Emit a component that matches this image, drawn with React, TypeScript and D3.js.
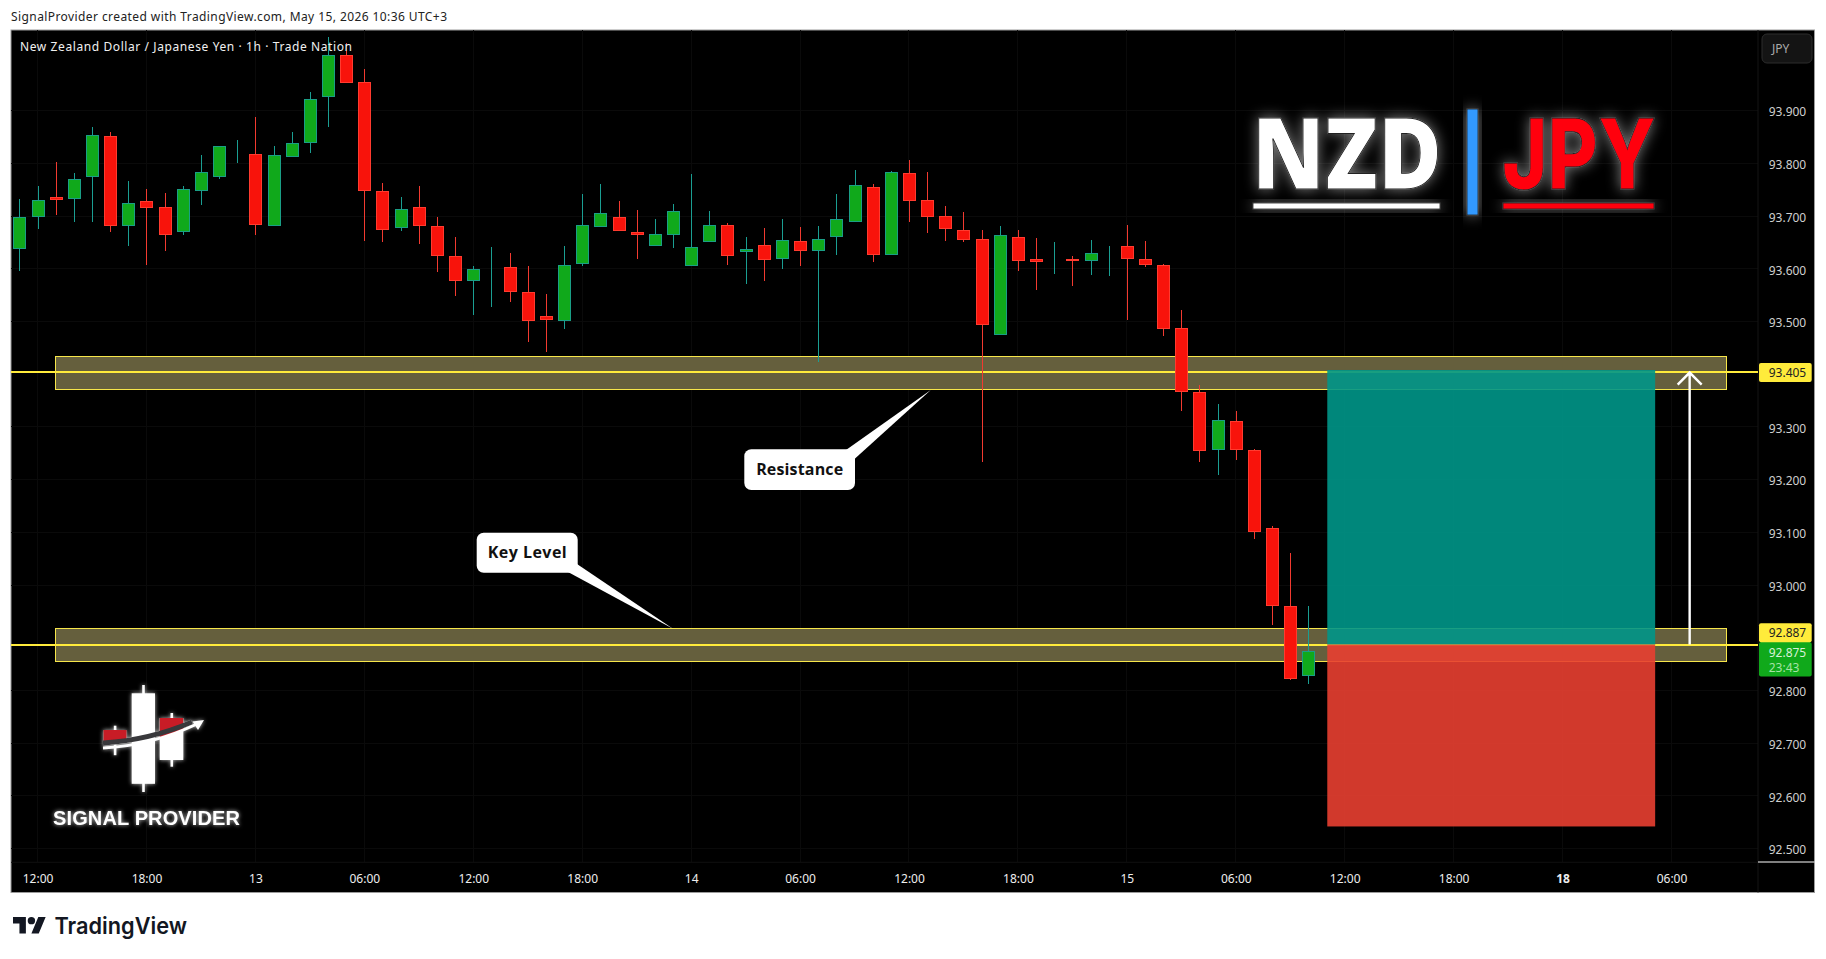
import React, { useEffect, useRef } from "react";

import * as d3 from "d3";

const WIDTH = 1826;
const HEIGHT = 959;

// NZDJPY 1h candles, May 12 11:00 to May 15 10:00
const opens = [
  93.638, 93.699, 93.736, 93.733, 93.775, 93.851, 93.682, 93.728, 93.718, 93.67, 93.748, 93.775, 93.821, 93.817, 93.682,
  93.813, 93.839, 93.925, 94.005, 93.954, 93.747, 93.678, 93.718, 93.681, 93.624, 93.577, 93.6, 93.603, 93.555, 93.51,
  93.5, 93.61, 93.68, 93.698, 93.67, 93.643, 93.665, 93.605, 93.65, 93.683, 93.631, 93.645, 93.618, 93.653, 93.633,
  93.66, 93.688, 93.755, 93.626, 93.782, 93.731, 93.7, 93.674, 93.657, 93.474, 93.66, 93.619, 93.616, 93.619, 93.614,
  93.628, 93.643, 93.619, 93.607, 93.487, 93.366, 93.257, 93.311, 93.257, 93.108, 92.96, 92.828,
];
const highs = [
  93.732, 93.757, 93.803, 93.782, 93.869, 93.86, 93.767, 93.751, 93.744, 93.757, 93.816, 93.832, 93.844, 93.888, 93.833,
  93.86, 93.935, 94.04, 94.028, 93.979, 93.763, 93.736, 93.757, 93.698, 93.66, 93.605, 93.641, 93.63, 93.605, 93.552,
  93.643, 93.742, 93.761, 93.729, 93.712, 93.695, 93.722, 93.779, 93.71, 93.686, 93.661, 93.678, 93.695, 93.68, 93.682,
  93.741, 93.788, 93.76, 93.786, 93.807, 93.784, 93.72, 93.707, 93.674, 93.682, 93.674, 93.659, 93.65, 93.625, 93.655,
  93.644, 93.684, 93.653, 93.61, 93.522, 93.38, 93.344, 93.33, 93.258, 93.112, 93.061, 92.96,
];
const lows = [
  93.596, 93.675, 93.702, 93.689, 93.689, 93.67, 93.643, 93.607, 93.634, 93.664, 93.721, 93.77, 93.801, 93.664, 93.682,
  93.813, 93.82, 93.869, 93.953, 93.653, 93.651, 93.672, 93.647, 93.594, 93.548, 93.512, 93.527, 93.537, 93.461, 93.442,
  93.486, 93.605, 93.68, 93.671, 93.619, 93.643, 93.64, 93.605, 93.65, 93.608, 93.572, 93.577, 93.6, 93.606, 93.424,
  93.627, 93.688, 93.612, 93.626, 93.688, 93.667, 93.653, 93.65, 93.234, 93.474, 93.595, 93.56, 93.591, 93.568, 93.589,
  93.587, 93.502, 93.604, 93.473, 93.33, 93.234, 93.209, 93.237, 93.088, 92.924, 92.82, 92.812,
];
const closes = [
  93.698, 93.73, 93.731, 93.77, 93.853, 93.682, 93.724, 93.716, 93.665, 93.751, 93.783, 93.832, 93.821, 93.684, 93.815,
  93.838, 93.923, 94.005, 93.953, 93.748, 93.674, 93.713, 93.682, 93.625, 93.576, 93.599, 93.601, 93.555, 93.5, 93.503,
  93.608, 93.684, 93.705, 93.671, 93.665, 93.666, 93.71, 93.641, 93.683, 93.624, 93.638, 93.616, 93.655, 93.633, 93.657,
  93.694, 93.759, 93.627, 93.784, 93.728, 93.698, 93.675, 93.654, 93.493, 93.664, 93.614, 93.612, 93.617, 93.614, 93.63,
  93.629, 93.618, 93.607, 93.485, 93.367, 93.255, 93.313, 93.257, 93.1, 92.961, 92.822, 92.874,
];

const priceTicks = [93.9, 93.8, 93.7, 93.6, 93.5, 93.3, 93.2, 93.1, 93.0, 92.8, 92.7, 92.6, 92.5];
const timeTickBars = [1, 7, 13, 19, 25, 31, 37, 43, 49, 55, 61, 67, 73, 79, 85, 91];
const timeTickLabels = ["12:00", "18:00", "13", "06:00", "12:00", "18:00", "14", "06:00", "12:00", "18:00", "15", "06:00", "12:00", "18:00", "18", "06:00"];

const upperZone = [93.434, 93.372];
const lowerZone = [92.918, 92.855];
const resistancePrice = 93.405;
const keyPrice = 92.887;
const lastPrice = 92.875;
const targetPrice = 93.408;
const stopPrice = 92.542;
const positionBars = [72.04, 90.1];
const zoneBars = [2.0, 94.05];

const App: React.FC = () => {
  const svgRef = useRef<SVGSVGElement | null>(null);

  useEffect(() => {
    if (!svgRef.current) return;
    const svg = d3.select(svgRef.current);
    svg.selectAll("*").remove();

    const frame = { left: 11, right: 1814.5, top: 30, bottom: 892.5 };
    const plotRight = 1758;
    const plotBottom = 862.3;

    const x = d3.scaleLinear().domain([0, 71]).range([19.4, 1308.4]);
    const y = d3.scaleLinear().domain([92.474, 94.053]).range([plotBottom, frame.top]);
    const labelFont = "'Noto Sans', sans-serif";

    const defs = svg.append("defs");
    const glow = (id: string, blur: number, opacity: number) => {
      const f = defs
        .append("filter")
        .attr("id", id)
        .attr("x", "-30%")
        .attr("y", "-60%")
        .attr("width", "160%")
        .attr("height", "220%");
      f.append("feGaussianBlur").attr("in", "SourceAlpha").attr("stdDeviation", blur).attr("result", "b");
      f.append("feFlood").attr("flood-color", "#fff").attr("flood-opacity", opacity).attr("result", "c");
      f.append("feComposite").attr("in", "c").attr("in2", "b").attr("operator", "in").attr("result", "g");
      const m = f.append("feMerge");
      m.append("feMergeNode").attr("in", "g");
      m.append("feMergeNode").attr("in", "SourceGraphic");
    };
    glow("bigGlow", 7, 0.48);
    glow("smallGlow", 2, 0.75);

    defs
      .append("clipPath")
      .attr("id", "plotClip")
      .append("rect")
      .attr("x", frame.left)
      .attr("y", frame.top)
      .attr("width", plotRight - frame.left)
      .attr("height", plotBottom - frame.top);

    svg.append("rect").attr("width", WIDTH).attr("height", HEIGHT).attr("fill", "#fff");

    // header
    svg
      .append("text")
      .attr("x", 11)
      .attr("y", 21)
      .attr("textLength", 436)
      .attr("font-family", labelFont)
      .attr("font-size", 12)
      .attr("fill", "#222")
      .text("SignalProvider created with TradingView.com, May 15, 2026 10:36 UTC+3");

    svg
      .append("rect")
      .attr("x", frame.left)
      .attr("y", frame.top)
      .attr("width", frame.right - frame.left)
      .attr("height", frame.bottom - frame.top)
      .attr("fill", "#000")
      .attr("stroke", "#9b9b9b")
      .attr("stroke-width", 1);

    // grid
    const grid = svg.append("g").attr("stroke", "#0a0a0a").attr("shape-rendering", "crispEdges");
    priceTicks.forEach((p) => {
      grid.append("line").attr("x1", frame.left).attr("x2", plotRight).attr("y1", y(p)).attr("y2", y(p));
    });
    timeTickBars.forEach((b) => {
      grid.append("line").attr("x1", x(b)).attr("x2", x(b)).attr("y1", frame.top).attr("y2", plotBottom);
    });
    svg
      .append("line")
      .attr("x1", frame.left)
      .attr("x2", plotRight)
      .attr("y1", plotBottom)
      .attr("y2", plotBottom)
      .attr("stroke", "#101010");
    svg
      .append("line")
      .attr("x1", plotRight)
      .attr("x2", plotRight)
      .attr("y1", frame.top)
      .attr("y2", frame.bottom)
      .attr("stroke", "#151515");

    // key level zones
    [upperZone, lowerZone].forEach(([top, bottom]) => {
      svg
        .append("rect")
        .attr("x", x(zoneBars[0]))
        .attr("y", y(top) + 0.5)
        .attr("width", x(zoneBars[1]) - x(zoneBars[0]))
        .attr("height", y(bottom) - y(top))
        .attr("fill", "#655f3d")
        .attr("stroke", "#f7e64a")
        .attr("stroke-width", 1)
        .attr("shape-rendering", "crispEdges");
    });
    [resistancePrice, keyPrice].forEach((p) => {
      svg
        .append("line")
        .attr("x1", frame.left)
        .attr("x2", plotRight)
        .attr("y1", y(p))
        .attr("y2", y(p))
        .attr("stroke", "#ffeb3b")
        .attr("stroke-width", 2)
        .attr("shape-rendering", "crispEdges");
    });

    // candles
    const candles = svg
      .append("g")
      .attr("clip-path", "url(#plotClip)")
      .attr("shape-rendering", "crispEdges")
      .selectAll("g")
      .data(opens.map((o, i) => ({ i, o, h: highs[i], l: lows[i], c: closes[i] })))
      .join("g");

    candles
      .append("line")
      .attr("x1", (d) => Math.round(x(d.i)))
      .attr("x2", (d) => Math.round(x(d.i)))
      .attr("y1", (d) => y(d.h))
      .attr("y2", (d) => y(d.l))
      .attr("stroke", (d) => (d.c >= d.o ? "#1a9e92" : "#f23a30"));

    candles
      .append("rect")
      .attr("x", (d) => Math.round(x(d.i)) - 6)
      .attr("width", 12)
      .attr("y", (d) => Math.round(y(Math.max(d.o, d.c))) + 0.5)
      .attr("height", (d) => Math.max(0, Math.round(y(Math.min(d.o, d.c))) - Math.round(y(Math.max(d.o, d.c))) - 1))
      .attr("fill", (d) => (d.c >= d.o ? "#10a91b" : "#f8130b"))
      .attr("stroke", (d) => (d.c >= d.o ? "#1a9e86" : "#ff3b2f"))
      .attr("stroke-width", 1);

    // long position box
    svg
      .append("rect")
      .attr("x", x(positionBars[0]))
      .attr("width", x(positionBars[1]) - x(positionBars[0]))
      .attr("y", y(targetPrice))
      .attr("height", y(keyPrice) - y(targetPrice))
      .attr("fill", "#009688")
      .attr("fill-opacity", 0.9);
    svg
      .append("rect")
      .attr("x", x(positionBars[0]))
      .attr("width", x(positionBars[1]) - x(positionBars[0]))
      .attr("y", y(keyPrice))
      .attr("height", y(stopPrice) - y(keyPrice))
      .attr("fill", "#e83f31")
      .attr("fill-opacity", 0.9);

    // arrow up to the target
    const arrowX = x(92.0);
    const arrowPath = d3.path();
    arrowPath.moveTo(arrowX, y(keyPrice));
    arrowPath.lineTo(arrowX, y(resistancePrice) + 1);
    arrowPath.moveTo(arrowX - 12, y(resistancePrice) + 13);
    arrowPath.lineTo(arrowX, y(resistancePrice) + 1);
    arrowPath.lineTo(arrowX + 12, y(resistancePrice) + 13);
    svg.append("path").attr("d", arrowPath.toString()).attr("fill", "none").attr("stroke", "#fff").attr("stroke-width", 2.4);

    // callouts
    const callout = (
      bx: number,
      by: number,
      bw: number,
      bh: number,
      pointer: [number, number][],
      label: string,
      textLen: number
    ) => {
      svg.append("rect").attr("x", bx).attr("y", by).attr("width", bw).attr("height", bh).attr("rx", 7).attr("fill", "#fff");
      svg
        .append("path")
        .attr("d", (d3.line()(pointer) as string) + "Z")
        .attr("fill", "#fff");
      svg
        .append("text")
        .attr("x", bx + bw / 2)
        .attr("y", by + bh / 2 + 5)
        .attr("text-anchor", "middle")
        .attr("textLength", textLen)
        .attr("font-family", "'Open Sans', sans-serif")
        .attr("font-weight", 700)
        .attr("font-size", 16)
        .attr("fill", "#111")
        .text(label);
    };
    callout(744.3, 449.3, 110.7, 40.7, [[846, 450], [854.5, 459], [x(50.2), y(upperZone[1]) + 1]], "Resistance", 87);
    callout(476.7, 532.7, 101, 40, [[568, 572], [577, 564], [x(36), y(lowerZone[0]) + 0.5]], "Key Level", 79);

    // pair badge
    const badge = svg.append("g");
    const pairText = (tx: number, len: number, label: string, fill: string, family: string, weight: number, size: number) => {
      badge
        .append("text")
        .attr("x", tx)
        .attr("y", 189)
        .attr("textLength", len)
        .attr("lengthAdjust", "spacingAndGlyphs")
        .attr("font-family", family)
        .attr("font-weight", weight)
        .attr("font-size", size)
        .attr("fill", fill)
        .attr("stroke", "#222")
        .attr("stroke-width", 1)
        .attr("filter", "url(#bigGlow)")
        .text(label);
    };
    pairText(1252, 190, "NZD", "#fff", "'Open Sans', sans-serif", 800, 99);
    pairText(1502, 154, "JPY", "#ff0011", "Inter, sans-serif", 800, 98);
    const badgeBar = (bx: number, by: number, bw: number, bh: number, fill: string) => {
      badge
        .append("rect")
        .attr("x", bx)
        .attr("y", by)
        .attr("width", bw)
        .attr("height", bh)
        .attr("fill", fill)
        .attr("stroke", "#222")
        .attr("stroke-width", 0.8)
        .attr("filter", "url(#bigGlow)");
    };
    badgeBar(1253, 203, 187, 6, "#fff");
    badgeBar(1503, 203, 151, 6, "#ff0011");
    badgeBar(1467, 109, 11, 106, "#3399ff");

    // signal provider logo
    const logo = svg.append("g").attr("filter", "url(#smallGlow)");
    const logoRect = (lx: number, ly: number, lw: number, lh: number, fill: string) => {
      logo.append("rect").attr("x", lx).attr("y", ly).attr("width", lw).attr("height", lh).attr("fill", fill);
    };
    logoRect(142.2, 685, 2.6, 107, "#fff");
    logoRect(131.7, 693.3, 23.3, 90.5, "#fff");
    logoRect(113.8, 725.7, 2.6, 29.5, "#fff");
    logoRect(103.3, 730, 23.4, 12, "#c81e28");
    logoRect(170.5, 713, 2.6, 53.7, "#fff");
    logoRect(159.7, 718, 23.6, 42, "#fff");
    logo.append("path").attr("d", "M159.7 718h23.6v11q-11 5 -23.6 9z").attr("fill", "#c81e28");
    logo
      .append("path")
      .attr("d", "M103 743 Q150 740 192 722")
      .attr("fill", "none")
      .attr("stroke", "#37373b")
      .attr("stroke-width", 5);
    logo
      .append("path")
      .attr("d", "M103 748 Q150 746 197 724")
      .attr("fill", "none")
      .attr("stroke", "#fff")
      .attr("stroke-width", 3);
    logo.append("path").attr("d", "M204 720 L192.5 721.5 L198 730z").attr("fill", "#fff");

    svg
      .append("text")
      .attr("x", 53)
      .attr("y", 825)
      .attr("textLength", 187)
      .attr("font-family", "'Liberation Sans', sans-serif")
      .attr("font-weight", 700)
      .attr("font-size", 20)
      .attr("fill", "#fff")
      .attr("filter", "url(#smallGlow)")
      .text("SIGNAL PROVIDER");

    // title
    svg
      .append("text")
      .attr("x", 20)
      .attr("y", 51)
      .attr("textLength", 332)
      .attr("font-family", labelFont)
      .attr("font-size", 12)
      .attr("fill", "#f0f0f0")
      .text("New Zealand Dollar / Japanese Yen · 1h · Trade Nation");

    // price axis
    const yAxis = d3
      .axisRight(y)
      .tickValues(priceTicks)
      .tickSize(0)
      .tickPadding(10.7)
      .tickFormat((d) => d3.format(".3f")(d as number));
    const yAxisG = svg.append("g").attr("transform", `translate(${plotRight},1.5)`).call(yAxis);
    yAxisG.select(".domain").remove();
    yAxisG.selectAll("text").attr("font-family", labelFont).attr("font-size", 12).attr("fill", "#cfcfcf");

    // time axis
    const xAxis = d3
      .axisBottom(x)
      .tickValues(timeTickBars)
      .tickSize(0)
      .tickPadding(12)
      .tickFormat((d) => timeTickLabels[timeTickBars.indexOf(d as number)]);
    const xAxisG = svg.append("g").attr("transform", `translate(0,${plotBottom})`).call(xAxis);
    xAxisG.select(".domain").remove();
    xAxisG
      .selectAll<SVGTextElement, number>("text")
      .attr("font-family", labelFont)
      .attr("font-size", 12)
      .attr("fill", "#eee")
      .attr("font-weight", (d) => (d === 85 ? 700 : 400));

    svg
      .append("line")
      .attr("x1", plotRight)
      .attr("x2", frame.right)
      .attr("y1", 862)
      .attr("y2", 862)
      .attr("stroke", "#fff");

    // currency button
    svg
      .append("rect")
      .attr("x", 1762)
      .attr("y", 34)
      .attr("width", 50)
      .attr("height", 29)
      .attr("rx", 5)
      .attr("fill", "#141414")
      .attr("stroke", "#2c2c2c");
    svg
      .append("text")
      .attr("x", 1772)
      .attr("y", 53)
      .attr("font-family", labelFont)
      .attr("font-size", 12)
      .attr("fill", "#aaa")
      .text("JPY");

    // price labels
    const priceLabel = (ly: number, lh: number, fill: string) => {
      svg.append("rect").attr("x", 1759).attr("y", ly).attr("width", 52.7).attr("height", lh).attr("rx", 2).attr("fill", fill);
    };
    const priceLabelText = (ty: number, fill: string, label: string) => {
      svg
        .append("text")
        .attr("x", 1768.7)
        .attr("y", ty)
        .attr("font-family", labelFont)
        .attr("font-size", 12)
        .attr("fill", fill)
        .text(label);
    };
    priceLabel(y(resistancePrice) - 8.5, 19, "#ffeb3b");
    priceLabelText(y(resistancePrice) + 5.5, "#222", d3.format(".3f")(resistancePrice));
    priceLabel(y(keyPrice) - 2.5, 34.5, "#10a91b");
    priceLabel(y(keyPrice) - 21.3, 19, "#ffeb3b");
    priceLabelText(y(keyPrice) - 7.5, "#222", d3.format(".3f")(keyPrice));
    priceLabelText(y(keyPrice) + 12, "#d8f2d8", d3.format(".3f")(lastPrice));
    priceLabelText(y(keyPrice) + 27, "#a5e3a5", "23:43");

    // tradingview mark
    const mark = svg.append("g").attr("transform", "translate(13,913.3) scale(0.92)").attr("fill", "#131722");
    mark.append("path").attr("d", "M14 22H7V11H0V4h14v18zM28 22h-8l7.5-18h8L28 22z");
    mark.append("circle").attr("cx", 20).attr("cy", 8).attr("r", 4);
    svg
      .append("text")
      .attr("x", 54.5)
      .attr("y", 934)
      .attr("textLength", 132.5)
      .attr("lengthAdjust", "spacingAndGlyphs")
      .attr("font-family", "Inter, sans-serif")
      .attr("font-weight", 600)
      .attr("font-size", 23)
      .attr("fill", "#131722")
      .text("TradingView");
  }, []);

  return <svg ref={svgRef} width={WIDTH} height={HEIGHT} style={{ position: "absolute", left: 0, top: 0 }} />;
};

export default App;
